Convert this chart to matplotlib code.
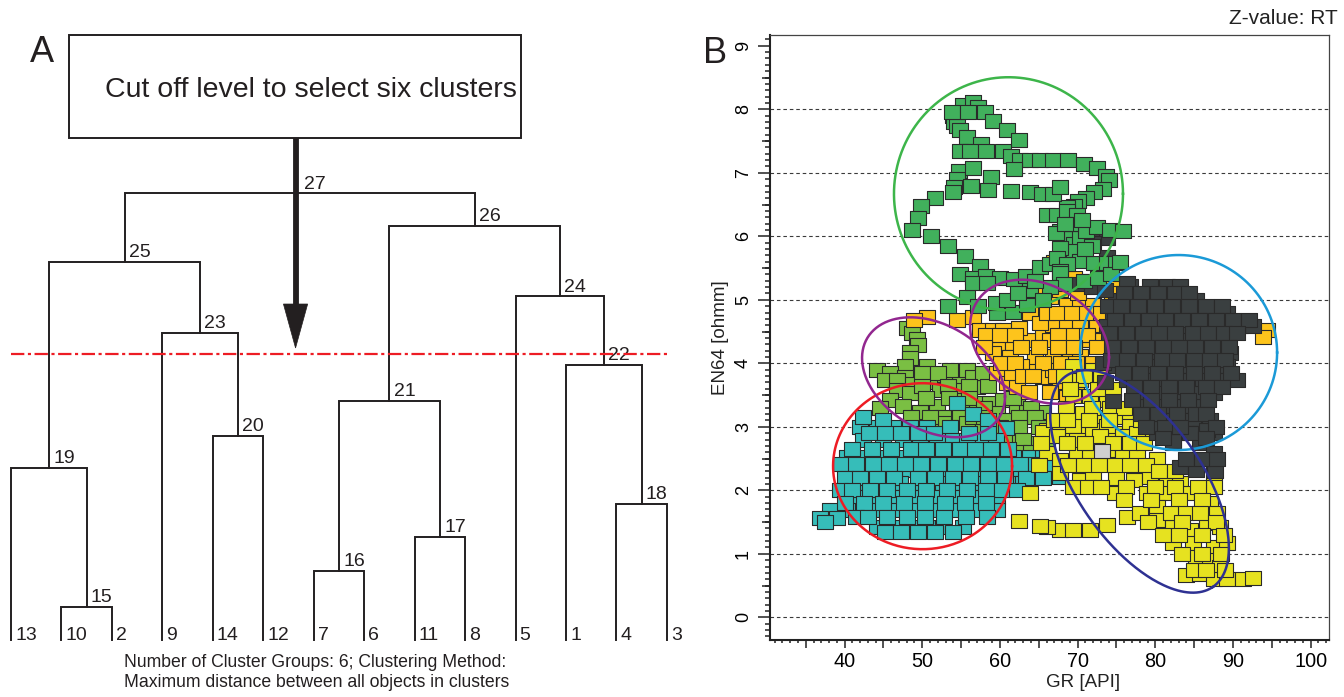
import numpy as np
import matplotlib
matplotlib.use("Agg")
import matplotlib.pyplot as plt
from matplotlib.patches import Rectangle, Polygon
from matplotlib.ticker import MultipleLocator, FuncFormatter

plt.rcParams['font.family'] = ['Liberation Sans', 'DejaVu Sans']

# ---------------- panel A : dendrogram ----------------
leaf_order = [13, 10, 2, 9, 14, 12, 7, 6, 11, 8, 5, 1, 4, 3]
merge_node = [15, 16, 17, 18, 19, 20, 21, 22, 23, 24, 25, 26, 27]
merge_left = [10, 7, 11, 4, 13, 14, 16, 1, 9, 5, 19, 21, 25]
merge_right = [2, 6, 8, 3, 15, 12, 17, 18, 20, 22, 23, 24, 26]
merge_height = [0.95, 2.0, 3.0, 3.95, 5.0, 5.95, 6.95, 8.0, 8.95, 10.0, 11.0, 12.05, 13.0]
cut_level = 8.33

# ---------------- panel B : GR vs EN64 crossplot ----------------
green_gr = [53.95, 54.15, 54.45, 54.9, 55.3, 56.5, 57.2, 58.1, 59.1, 60.9, 62.4, 55.7, 57.6,
            54.9, 56.1, 58.2, 60.45, 61.45, 62.6, 63.9, 65.1, 66.85, 68.8, 70.8, 72.45, 73.65,
            74.05, 73.25, 72.05, 71.1, 70.1, 69.5, 68.6, 54.7, 54.45, 54.05, 53.95, 56.5, 56.3,
            58.9, 58.5, 61.45, 61.75, 63.9, 65.4, 66.85, 67.75, 51.65, 49.9, 49.4, 48.7, 51.15,
            53.35, 55.5, 57.4, 54.9, 56.5, 58.2, 60.05, 61.75, 63.4, 65.1, 66.45, 67.75, 68.6,
            69.5, 70.3, 71.1, 72.45, 74.15, 75.9, 69.5, 67.75, 70.3, 72.05, 73.75, 74.95, 67.35,
            68.6, 67.75, 66.0, 67.35, 68.6, 69.9, 53.3, 55.8, 59.6, 61.7, 63.5, 56.5, 58.3, 63.9,
            67.7, 70.8, 72.6, 74.3, 75.5, 68.2, 66.5, 65.5, 64.5, 69.0, 70.6, 71.9, 70.9, 67.2,
            68.4, 59.5, 60.9, 62.3, 57.2, 53.8, 55.9]
green_en = [7.90, 7.80, 7.74, 7.67, 8.06, 8.11, 8.03, 7.95, 7.82, 7.68, 7.52, 7.56, 7.46,
            7.35, 7.35, 7.35, 7.35, 7.27, 7.2, 7.2, 7.2, 7.2, 7.2, 7.14, 7.07, 6.95,
            6.88, 6.74, 6.69, 6.61, 6.56, 6.48, 6.46, 7.03, 6.9, 6.77, 6.69, 7.08, 6.8,
            6.94, 6.73, 6.72, 7.06, 6.69, 6.66, 6.66, 6.77, 6.6, 6.47, 6.29, 6.1, 6.0,
            5.85, 5.69, 5.53, 5.4, 5.35, 5.37, 5.35, 5.32, 5.37, 5.51, 5.56, 6.09, 5.98,
            5.88, 5.98, 6.09, 6.14, 6.1, 6.09, 5.77, 5.82, 5.61, 5.58, 5.58, 5.58, 5.66,
            5.56, 5.45, 6.34, 6.34, 6.4, 6.34, 4.9, 5.05, 4.79, 4.81, 4.92, 5.26, 5.26, 5.15,
            5.42, 5.3, 5.35, 5.4, 5.6, 5.25, 5.2, 5.0, 5.3, 6.2, 6.25, 5.85, 5.8, 6.05,
            6.2, 4.95, 5.0, 5.1, 4.9, 7.95, 7.95]

orange_gr = [50.6, 54.5, 56.5, 57.4, 59.1, 60.4, 59.6, 61.7, 63.9, 65.5, 59.1, 61.3, 63.9,
             65.5, 59.6, 60.9, 62.2, 66.45, 67.75, 69.4, 70.7, 72.0, 73.8, 75.1, 68.6, 70.3,
             72.0, 66.8, 68.6, 70.3, 72.5, 74.2, 66.4, 68.1, 70.3, 71.6, 73.3, 66.8, 69.0, 70.3,
             66.8, 68.6, 71.2, 67.75, 69.4, 68.6, 94.4, 93.9, 67.0, 69.5, 71.5, 63.9, 65.2,
             62.5, 64.5, 62.7, 61.5,
             65.0, 70.0, 74.4, 66.0, 67.4, 69.3, 71.2, 73.0, 58.2, 60.0, 62.0, 67.5, 69.5, 71.2,
             58.0, 62.7, 65.0, 67.5, 69.5, 72.5, 60.2, 62.0, 65.6, 67.8, 69.8, 72.0, 63.0, 64.3,
             67.2, 70.0, 63.8, 66.4, 69.8, 48.9]
orange_en = [4.73, 4.68, 4.73, 4.52, 4.52, 4.52, 4.32, 4.32, 4.37, 4.48, 4.16, 4.1, 3.9,
             3.78, 3.84, 3.69, 3.62, 5.04, 5.15, 5.24, 5.24, 5.24, 5.24, 5.24, 4.92, 4.92,
             4.92, 4.6, 4.6, 4.6, 4.6, 4.6, 4.36, 4.36, 4.36, 4.36, 4.36, 4.12, 4.12, 4.12,
             3.9, 3.9, 3.9, 3.7, 3.7, 3.47, 4.52, 4.42, 5.6, 5.35, 5.3, 4.79, 4.63,
             4.55, 4.1, 3.95, 3.85,
             5.1, 5.1, 5.1, 4.8, 4.8, 4.8, 4.8, 4.8, 4.45, 4.45, 4.45, 4.45, 4.45, 4.45,
             4.25, 4.25, 4.25, 4.25, 4.25, 4.25, 4.0, 4.0, 4.0, 4.0, 4.0, 4.0, 3.8, 3.8,
             3.8, 3.8, 3.55, 3.55, 3.55, 4.68]

dark_gr = [76.75, 79.3, 81.45, 83.2,
           75.0, 77.2, 79.3, 81.45, 83.6, 85.3,
           74.6, 76.3, 78.9, 81.0, 83.2, 85.75, 87.5, 89.2,
           73.75, 75.9, 78.0, 80.2, 82.3, 84.5, 86.6, 88.35, 90.9, 92.6,
           75.0, 77.2, 79.3, 81.45, 83.6, 85.75, 87.5, 89.2,
           75.45, 78.0, 80.6, 83.2, 85.3, 87.5, 89.6,
           75.0, 77.2, 79.75, 81.9, 84.0, 86.6, 89.2,
           76.3, 78.9, 81.45, 83.6, 86.2, 88.35, 90.5,
           78.0, 80.2, 82.75, 84.9, 87.5,
           78.9, 81.45, 83.6, 85.75,
           79.3, 82.3, 84.9, 87.0,
           80.2, 84.0, 85.75, 87.5,
           82.3, 85.75,
           80.2, 82.3, 84.5, 86.6, 87.5, 83.2, 85.3, 87.7, 70.0, 71.8, 73.5, 73.3, 73.5, 74.5,
           72.45, 73.75, 72.0, 73.8, 76.4,
           76.0, 78.2, 80.4, 82.5, 84.3,
           73.9, 75.6, 77.8, 80.0, 82.2, 84.4, 86.5, 88.6,
           74.8, 77.0, 79.2, 81.3, 83.4, 85.6, 87.8, 90.0, 92.0,
           74.0, 76.2, 78.4, 80.5, 82.6, 84.8, 86.8, 88.8, 90.5,
           74.4, 76.6, 78.8, 81.0, 83.0, 85.1, 87.3, 89.5,
           74.3, 76.3, 78.5, 80.9, 82.8, 85.0, 87.0, 89.0,
           75.8, 78.0, 80.4, 82.6, 85.0, 87.3, 89.8,
           77.2, 79.5, 81.8, 84.0, 86.5, 88.6,
           77.0, 79.5, 81.8, 84.2, 86.8,
           78.2, 80.4, 82.8, 85.2, 86.5,
           78.8, 81.3, 83.2, 87.8,
           81.0, 86.5,
           84.0, 86.0, 88.0]
dark_en = [5.21, 5.21, 5.21, 5.21,
           5.0, 5.0, 5.0, 5.0, 5.0, 5.0,
           4.79, 4.79, 4.79, 4.79, 4.79, 4.79, 4.79, 4.79,
           4.58, 4.58, 4.58, 4.58, 4.58, 4.58, 4.58, 4.58, 4.58, 4.58,
           4.37, 4.37, 4.37, 4.37, 4.37, 4.37, 4.37, 4.37,
           4.16, 4.16, 4.16, 4.16, 4.16, 4.16, 4.16,
           3.95, 3.95, 3.95, 3.95, 3.95, 3.95, 3.95,
           3.74, 3.74, 3.74, 3.74, 3.74, 3.74, 3.74,
           3.53, 3.53, 3.53, 3.53, 3.53,
           3.32, 3.32, 3.32, 3.32,
           3.11, 3.11, 3.11, 3.11,
           2.9, 2.9, 2.9, 2.9,
           2.74, 2.74,
           3.03, 2.77, 2.9, 2.95, 2.58, 2.37, 2.32, 2.3, 5.25, 5.2, 5.15, 4.0, 3.7, 3.4,
           5.99, 5.97, 5.9, 5.67, 5.26,
           5.1, 5.1, 5.1, 5.1, 5.1,
           4.9, 4.9, 4.9, 4.9, 4.9, 4.9, 4.9, 4.9,
           4.68, 4.68, 4.68, 4.68, 4.68, 4.68, 4.68, 4.68, 4.68,
           4.47, 4.47, 4.47, 4.47, 4.47, 4.47, 4.47, 4.47, 4.47,
           4.26, 4.26, 4.26, 4.26, 4.26, 4.26, 4.26, 4.26,
           4.05, 4.05, 4.05, 4.05, 4.05, 4.05, 4.05, 4.05,
           3.84, 3.84, 3.84, 3.84, 3.84, 3.84, 3.84,
           3.63, 3.63, 3.63, 3.63, 3.63, 3.63,
           3.42, 3.42, 3.42, 3.42, 3.42,
           3.2, 3.2, 3.2, 3.2, 3.2,
           3.0, 3.0, 3.0, 3.0,
           2.82, 2.82,
           2.5, 2.5, 2.5]

yellow_gr = [66.0, 67.75, 69.45, 71.2, 72.9, 75.0, 77.2, 79.3,
             66.0, 67.75, 69.9, 71.6, 73.8, 75.9, 77.6, 80.2,
             70.3, 72.0, 75.0, 77.2, 79.3, 81.45, 83.2, 67.75, 69.45, 74.85, 78.9, 81.45, 84.0,
             87.5, 87.5, 87.0, 80.2, 76.3, 78.0, 80.2, 82.3, 84.5, 86.6, 88.35, 67.75, 69.45,
             71.6, 73.8, 82.3, 84.9, 87.5, 89.2, 85.3, 87.0, 88.35, 84.0, 85.75, 87.5, 89.2,
             91.3, 92.6, 66.0, 62.4, 65.2, 65.6, 63.9,
             69.45, 72.0, 70.3, 69.45, 71.6, 73.75, 70.75, 72.9, 75.0, 76.75, 69.45, 72.0,
             73.75, 76.75, 67.3, 69.9, 72.9, 75.9, 77.6,
             68.2, 70.8, 73.0, 69.0, 72.6, 74.6, 68.5, 71.8, 74.2, 76.0, 67.0, 68.6, 71.5,
             74.0, 78.2, 65.3, 68.6, 71.0, 74.5, 76.8, 78.6, 65.0, 68.7, 70.8, 72.8, 74.8,
             76.8, 78.8, 80.5, 82.5, 71.3, 73.0, 76.2, 80.0, 82.5, 85.5, 76.0, 79.5, 83.0,
             86.0, 82.0, 84.0, 85.8, 88.0, 79.0, 83.5, 87.8, 81.0, 83.0, 86.0, 88.8, 83.5,
             86.0, 88.5, 85.0, 86.5, 89.0]
yellow_en = [2.95, 3.0, 2.9, 2.95, 3.0, 2.9, 2.9, 2.95,
             2.58, 2.48, 2.58, 2.53, 2.63, 2.58, 2.61, 2.5,
             2.16, 2.27, 2.19, 2.16, 2.21, 2.16, 2.11, 2.27, 2.06, 1.95, 1.95, 1.95, 1.95,
             2.27, 2.06, 1.8, 1.74, 1.58, 1.64, 1.53, 1.43, 1.37, 1.48, 1.43, 1.37, 1.37,
             1.37, 1.45, 1.17, 1.17, 1.11, 1.17, 0.95, 0.9, 0.8, 0.67, 0.69, 0.61, 0.61,
             0.61, 0.62, 1.43, 1.51, 1.44, 2.92, 1.96,
             3.95, 3.9, 3.74, 3.48, 3.48, 3.43, 3.22, 3.16, 3.16, 3.22, 3.01, 2.95,
             3.01, 3.01, 2.85, 2.8, 2.85, 2.85, 2.9,
             3.8, 3.8, 3.8, 3.6, 3.6, 3.6, 3.3, 3.3, 3.3, 3.3, 3.1, 3.1, 3.1,
             3.1, 3.1, 2.75, 2.75, 2.75, 2.75, 2.75, 2.75, 2.4, 2.4, 2.4, 2.4, 2.4,
             2.4, 2.4, 2.3, 2.3, 2.05, 2.05, 2.05, 2.05, 2.05, 2.05, 1.85, 1.85, 1.85,
             1.85, 1.65, 1.65, 1.65, 1.65, 1.5, 1.5, 1.5, 1.3, 1.3, 1.3, 1.3, 1.0,
             1.0, 1.0, 0.75, 0.75, 0.75]

lime_gr = [48.0, 48.65, 49.3, 49.5, 48.43, 48.43, 47.79, 50.58, 44.14, 45.86, 47.79, 45.2,
           46.7, 48.86, 51.43, 52.93, 54.86, 53.58, 55.72, 56.58, 57.0, 52.29, 54.86, 46.7,
           48.43, 45.86, 47.57, 49.72, 51.86, 52.72, 54.86, 55.3, 57.0, 58.73, 60.44, 62.16,
           63.45, 65.59, 59.59, 60.87, 55.8, 57.8, 61.7, 63.9, 65.2, 59.6, 65.6, 52.7, 51.0,
           46.9,
           50.0, 52.0, 57.8, 50.0, 53.3, 56.0, 58.5, 50.5, 53.5, 56.0, 61.7, 44.5, 58.0,
           64.0, 48.5, 51.0, 56.5, 58.0, 62.5, 64.5, 60.0, 62.5, 65.0, 60.5, 63.0, 66.0,
           62.5, 64.0]
lime_en = [4.55, 4.47, 4.39, 4.29, 4.18, 4.08, 3.96, 3.96, 3.89, 3.84, 3.79, 3.74,
           3.74, 3.68, 3.71, 3.82, 3.76, 3.89, 3.89, 3.79, 3.63, 3.58, 3.58, 3.58,
           3.53, 3.42, 3.32, 3.24, 3.32, 3.16, 3.21, 3.42, 3.37, 3.37, 3.42, 3.32,
           3.24, 3.24, 3.21, 3.11, 3.06, 3.03, 2.84, 2.74, 2.52, 2.95, 2.27, 3.06, 3.0,
           2.4,
           3.85, 3.85, 3.85, 3.65, 3.65, 3.65, 3.65, 3.45, 3.45, 3.45, 3.45, 3.3, 3.3,
           3.3, 3.15, 3.15, 3.15, 3.15, 3.15, 3.15, 3.0, 3.0, 3.0, 2.8, 2.8, 2.8,
           2.6, 2.6]

teal_gr = [42.0, 44.14, 46.28, 48.43, 50.58, 53.58,
           42.42, 45.0, 47.57, 49.72, 51.86, 54.0, 55.72, 57.87,
           40.28, 42.42, 44.57, 46.7, 48.86, 51.0, 53.15, 55.3, 57.44, 59.59, 61.72, 63.87, 65.59,
           41.13, 43.28, 45.86, 48.43, 50.58, 53.15, 55.3, 57.87, 59.59, 62.16, 64.73,
           40.28, 42.42, 44.57, 47.14, 49.72, 52.72, 54.86, 57.0, 59.59, 61.3, 63.0,
           41.57, 43.7, 46.28, 49.3, 51.86, 54.0, 57.0, 59.59,
           38.13, 40.28, 44.14, 46.7, 49.3, 51.86, 54.44, 57.44, 59.59,
           36.85, 39.0,
           44.14, 46.28, 48.43, 50.58, 52.72, 55.3,
           66.45, 67.7, 54.44, 56.5, 58.5, 60.8, 59.5, 42.4, 45.0,
           43.1, 45.2, 47.3, 49.4, 51.5, 56.0, 58.5,
           41.0, 43.5, 46.0, 48.5, 50.5, 52.7, 54.8, 56.8, 58.8, 61.0,
           39.6, 41.5, 43.6, 45.7, 47.8, 49.9, 52.0, 54.2, 56.3, 58.4, 60.5, 62.6, 64.6, 66.8,
           40.0, 42.0, 44.2, 46.3, 49.4, 51.6, 53.9, 56.1, 58.5, 60.6, 63.4, 65.5,
           39.4, 41.0, 43.3, 45.4, 48.0, 50.5, 53.2, 55.8, 58.2, 60.3, 62.2,
           40.1, 42.5, 44.9, 47.6, 50.4, 52.9, 55.5, 58.2,
           41.5, 43.0, 45.5, 48.0, 50.4, 52.8, 55.6, 58.3,
           37.5,
           45.2, 47.3, 49.5, 51.7, 54.0]
teal_en = [3.0, 3.0, 3.0, 3.0, 3.0, 3.0,
           2.79, 2.79, 2.79, 2.79, 2.79, 2.79, 2.79, 2.79,
           2.53, 2.53, 2.53, 2.53, 2.53, 2.53, 2.53, 2.53, 2.53, 2.53, 2.53, 2.53, 2.53,
           2.32, 2.32, 2.32, 2.32, 2.32, 2.32, 2.32, 2.32, 2.32, 2.32, 2.32,
           2.11, 2.11, 2.11, 2.11, 2.11, 2.11, 2.11, 2.11, 2.11, 2.11, 2.11,
           1.9, 1.9, 1.9, 1.9, 1.9, 1.9, 1.9, 1.9,
           1.69, 1.69, 1.69, 1.69, 1.69, 1.69, 1.69, 1.69, 1.69,
           1.56, 1.56,
           1.43, 1.43, 1.43, 1.43, 1.43, 1.43,
           2.43, 2.21, 3.37, 3.2, 3.1, 2.98, 2.8, 3.16, 3.11,
           2.9, 2.9, 2.9, 2.9, 2.9, 2.9, 2.9,
           2.65, 2.65, 2.65, 2.65, 2.65, 2.65, 2.65, 2.65, 2.65, 2.65,
           2.42, 2.42, 2.42, 2.42, 2.42, 2.42, 2.42, 2.42, 2.42, 2.42, 2.42, 2.42, 2.42, 2.42,
           2.2, 2.2, 2.2, 2.2, 2.2, 2.2, 2.2, 2.2, 2.2, 2.2, 2.2, 2.2,
           2.0, 2.0, 2.0, 2.0, 2.0, 2.0, 2.0, 2.0, 2.0, 2.0, 2.0,
           1.8, 1.8, 1.8, 1.8, 1.8, 1.8, 1.8, 1.8,
           1.58, 1.58, 1.58, 1.58, 1.58, 1.58, 1.58, 1.58,
           1.5,
           1.35, 1.35, 1.35, 1.35, 1.35]

grey_gr = [73.2]
grey_en = [2.62]

# ellipses: centre, two conjugate semi-axes (data units), colour
ell_center = [(61.1, 6.67), (83.0, 4.17), (50.04, 2.38), (51.45, 3.78), (65.1, 4.34), (77.97, 2.14)]
ell_u = [(14.74, 0.0), (12.68, 0.0), (11.52, 0.0), (9.2, -0.304), (8.94, -0.246), (9.46, -1.66)]
ell_v = [(0.0, 1.835), (0.0, 1.535), (0.0, 1.307), (0.0, -0.894), (0.0, -0.945), (6.54, 0.559)]
ell_color = ['#3db54a', '#1b9ad7', '#ed1c24', '#92278f', '#92278f', '#2e3192']

W, H = 1344, 697
fig = plt.figure(figsize=(W / 100, H / 100), dpi=100)

# ================= panel A =================
axA = fig.add_axes([0, 0, 680 / W, 1])
axA.set_xlim(-0.218, 13.26)
axA.set_ylim(-1.66, 18.63)
axA.axis('off')

lc = '#231f20'
pos = {leaf: i for i, leaf in enumerate(leaf_order)}
hgt = {leaf: 0.0 for leaf in leaf_order}
for node, a, b, h in zip(merge_node, merge_left, merge_right, merge_height):
    xa, xb = pos[a], pos[b]
    axA.plot([xa, xa, xb, xb], [hgt[a], h, h, hgt[b]], color=lc, lw=1.4, solid_joinstyle='miter')
    pos[node] = (xa + xb) / 2
    hgt[node] = h
    axA.annotate(str(node), (pos[node], h), xytext=(3, 3.5), textcoords='offset points',
                 ha='left', va='baseline', fontsize=14, color=lc)

for i, leaf in enumerate(leaf_order):
    axA.annotate(str(leaf), (i, 0), xytext=(3, 0), textcoords='offset points',
                 ha='left', va='baseline', fontsize=14, color=lc)

# cut-off line
axA.hlines(cut_level, 0, len(leaf_order) - 1, colors='#ed1c24', lw=1.6,
           linestyles=(0, (6, 1.6, 1.4, 1.6)), zorder=3)

# box with caption and arrow
axA.add_patch(Rectangle((1.15, 14.61), 8.96, 3.0, fill=False, ec=lc, lw=1.4))
axA.text(1.863, 15.82, 'Cut off level to select six clusters', fontsize=20.5,
         ha='left', va='baseline', color=lc)
ax_x = 5.64
axA.plot([ax_x, ax_x], [14.61, 9.6], color=lc, lw=4.2, solid_capstyle='butt')
axA.add_patch(Polygon([(ax_x - 0.24, 9.78), (ax_x + 0.24, 9.78), (ax_x, 8.5)],
                      closed=True, fc=lc, ec=lc, lw=0.5))

axA.text(2.24, -0.786, 'Number of Cluster Groups: 6; Clustering Method:', fontsize=12.7,
         ha='left', va='baseline', color=lc)
axA.text(2.24, -1.368, 'Maximum distance between all objects in clusters', fontsize=12.7,
         ha='left', va='baseline', color=lc)

fig.text(30 / W, 1 - 62 / H, 'A', fontsize=26, ha='left', va='baseline', color=lc)
fig.text(703 / W, 1 - 63 / H, 'B', fontsize=26, ha='left', va='baseline', color=lc)

# ================= panel B =================
axB = fig.add_axes([770 / W, 1 - 640 / H, 559.3 / W, 605 / H])
axB.set_xlim(30.4, 102.4)
axB.set_ylim(-0.357, 9.17)

for v in range(0, 9):
    axB.axhline(v, color='#3a3a3a', lw=0.8, ls=(0, (3.2, 2.6)), zorder=0.5)

rect = [(-1.12, -1), (1.12, -1), (1.12, 1), (-1.12, 1), (-1.12, -1)]
kw = dict(marker=rect, s=118, edgecolors='#2a2a2a', linewidths=0.8)
axB.scatter(lime_gr, lime_en, c='#7abf43', zorder=2, **kw)
axB.scatter(teal_gr, teal_en, c='#36bdb9', zorder=2.1, **kw)
axB.scatter(orange_gr, orange_en, c='#fdc41c', zorder=2.2, **kw)
axB.scatter(yellow_gr, yellow_en, c='#e6e220', zorder=2.3, **kw)
axB.scatter(dark_gr, dark_en, c='#3a3f40', zorder=2.4, **kw)
axB.scatter(green_gr, green_en, c='#41b05c', zorder=2.5, **kw)
axB.scatter(grey_gr, grey_en, c='#cfcfcf', zorder=2.6, **kw)

t = np.linspace(0, 2 * np.pi, 300)
for (cx, cy), (ux, uy), (vx, vy), col in zip(ell_center, ell_u, ell_v, ell_color):
    axB.plot(cx + ux * np.cos(t) + vx * np.sin(t), cy + uy * np.cos(t) + vy * np.sin(t),
             color=col, lw=1.8, zorder=4)

axB.xaxis.set_major_locator(MultipleLocator(5))
axB.xaxis.set_minor_locator(MultipleLocator(1))
axB.xaxis.set_major_formatter(FuncFormatter(lambda v, p: '%d' % v if round(v) % 10 == 0 else ''))
axB.yaxis.set_major_locator(MultipleLocator(1))
axB.yaxis.set_minor_locator(MultipleLocator(0.1))
axB.yaxis.set_major_formatter(FuncFormatter(lambda v, p: '%d' % round(v)))

axB.tick_params(axis='x', which='major', length=5.5, width=1.1, labelsize=14.3, pad=3, color='#222')
axB.tick_params(axis='x', which='minor', length=2.4, width=1.1, color='#222')
axB.tick_params(axis='y', which='major', length=9, width=1.1, labelsize=13, pad=4,
                labelrotation=90, color='#222')
axB.tick_params(axis='y', which='minor', length=3.6, width=1.1, color='#222')
for lab in axB.get_yticklabels():
    lab.set_va('center')

half = axB.secondary_yaxis('left')
half.set_yticks(np.arange(0.5, 9, 1.0))
half.tick_params(length=5.8, width=1.1, labelleft=False, color='#222')
half.spines['left'].set_visible(False)

for s in ['left', 'bottom']:
    axB.spines[s].set_linewidth(1.5)
    axB.spines[s].set_color('#222')
for s in ['top', 'right']:
    axB.spines[s].set_linewidth(0.9)
    axB.spines[s].set_color('#444')

axB.set_xlabel('GR [API]', fontsize=13.5, color='#222')
axB.xaxis.set_label_coords(0.56, -0.056)
axB.xaxis.label.set_va('top')
axB.set_ylabel('EN64 [ohmm]', fontsize=13.5, color='#222')
axB.yaxis.set_label_coords(-0.074, 0.5)

fig.text(1338 / W, 1 - 23.5 / H, 'Z-value: RT', fontsize=15, ha='right', va='baseline', color='#222')

fig.savefig('out.png', dpi=100)
